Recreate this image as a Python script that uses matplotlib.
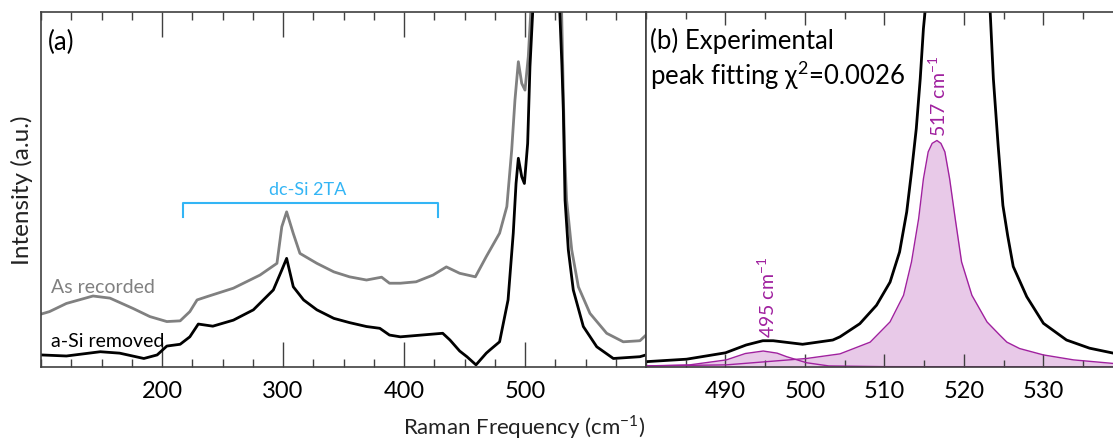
import matplotlib.pyplot as plt
import numpy as np

plt.rcParams['font.family'] = ['Lato', 'DejaVu Sans']

# (a) full spectra, intensity in arbitrary units (0-100 = axis height)
x_rec = np.array([100, 107, 121, 143, 157, 176, 190, 204, 215, 223, 229, 237, 259, 281, 295, 299,
                  303, 308.5, 314, 328, 342, 355, 369, 381.5, 388, 397, 410, 424, 435, 446, 459,
                  468, 479, 485, 489, 491.7, 494.5, 497.3, 500, 502.7, 504.7, 518, 530.3, 531.6,
                  532.8, 534.4, 538.6, 544.1, 553.7, 567.5, 581.2, 595, 600])
y_rec = np.array([14.9, 15.6, 17.9, 20.0, 19.4, 16.5, 14.2, 12.8, 13.0, 15.6, 18.9, 19.8, 22.2,
                  25.9, 29.2, 39.5, 43.7, 37.6, 32.0, 29.2, 26.8, 25.4, 24.5, 25.3, 23.6, 23.6,
                  24.0, 25.9, 28.2, 26.4, 25.4, 31.1, 37.7, 45.2, 61.1, 75.2, 86.0, 79.9, 78.0,
                  87.4, 99.6, 400, 99.6, 78, 60, 47, 33, 22.6, 15.1, 9.5, 7.1, 7.4, 9.0])

x_rem = np.array([100, 121, 149, 165, 185, 196, 204, 215, 223, 230, 242, 259, 275.5, 292, 299,
                  303, 308.5, 317, 328, 342, 355, 369, 380, 388, 397, 432, 438, 446, 452, 459.5,
                  468, 471, 479, 486, 490.3, 492.6, 494.5, 497.3, 499.5, 502.2, 504.1, 506.3,
                  518, 528.8, 530.5, 531.7, 533.1, 535.8, 539.9, 548.2, 559.3, 573, 595, 600])
y_rem = np.array([3.4, 3.1, 4.3, 3.9, 2.4, 3.4, 5.9, 6.4, 8.5, 12.1, 11.5, 13.2, 16.1, 21.7,
                  27.3, 30.6, 22.6, 18.9, 16.1, 13.7, 12.5, 11.4, 10.9, 9.0, 8.5, 9.5, 7.6, 4.5,
                  2.9, 0.6, 3.9, 4.8, 7.1, 18.9, 37.7, 51.7, 58.8, 53.6, 51.7, 63.0, 84.6, 99.6,
                  400, 99.6, 85, 72, 47, 33, 21.7, 11.4, 5.7, 2.4, 2.9, 3.4])

# (b) experimental spectrum and fitted peaks
x_exp = np.array([480, 485.1, 490, 492.6, 494.7, 496, 499.7, 503.5, 504.4, 506.9, 509.0, 510.7,
                  511.9, 512.8, 513.4, 514.0, 514.5, 514.9, 515.1, 519, 523.3, 523.7, 524.3,
                  524.9, 525.5, 526.2, 527.9, 530.0, 532.9, 535.8, 538.8])
y_exp = np.array([1.5, 2.2, 4.0, 6.2, 7.4, 7.4, 6.4, 7.6, 8.5, 12.2, 17.4, 23.9, 32.4, 43.7,
                  54.9, 67.1, 81.2, 95.3, 100, 300, 100, 81.2, 62.4, 45.5, 37.0, 28.3, 19.8,
                  12.3, 7.6, 5.3, 3.9])

x_p517 = np.array([480, 490.1, 500.2, 504.4, 508.2, 510.7, 512.4, 513.4, 514.3, 514.9, 515.5,
                   516.0, 516.6, 517.1, 517.6, 518.2, 518.9, 519.7, 521.0, 522.9, 524.5, 525.4,
                   527.0, 530.0, 533.8, 538.8])
y_p517 = np.array([0.3, 0.6, 2.4, 3.7, 7.0, 12.7, 20.2, 29.6, 41.8, 53.0, 60.6, 63.0, 63.8,
                   63.0, 60.6, 53.0, 41.8, 29.6, 20.2, 12.7, 9.0, 7.0, 5.2, 3.4, 2.0, 1.0])

x_p495 = np.array([480, 485.5, 490.1, 492.5, 494.75, 496.5, 497.7, 500.2, 503, 510, 538.8])
y_p495 = np.array([0.3, 0.6, 2.0, 3.8, 4.5, 3.9, 2.9, 1.2, 0.3, 0.1, 0.0])

fig = plt.figure(figsize=(11.13, 4.44), dpi=100)
axa = fig.add_axes([41 / 1113, 77 / 444, 605 / 1113, 355 / 444])
axb = fig.add_axes([646 / 1113, 77 / 444, 467 / 1113, 355 / 444])

spine_c = '#404040'

axa.plot(x_rec, y_rec, color='#808080', lw=2)
axa.plot(x_rem, y_rem, color='black', lw=2)
axa.set_xlim(100, 600)
axa.set_ylim(0, 100)
axa.set_xticks([200, 300, 400, 500])
axa.set_xticks(np.arange(100, 601, 25), minor=True)
axa.tick_params(axis='x', which='major', direction='in', length=18, width=1, top=True,
                labelsize=17, pad=10, color=spine_c)
axa.tick_params(axis='x', which='minor', direction='in', length=6, width=1, top=True, color=spine_c)
axa.set_yticks([])

# dc-Si 2TA bracket
axa.plot([217.4, 217.4, 428, 428], [42.3, 46.2, 46.2, 42.3], color='#33b5f5', lw=1.5)
axa.text(320, 47.6, 'dc-Si 2TA', color='#33b5f5', fontsize=13, ha='center', va='bottom')
axa.text(108, 20.8, 'As recorded', color='#808080', fontsize=14, ha='left', va='baseline')
axa.text(108, 5.7, 'a-Si removed', color='black', fontsize=14, ha='left', va='baseline')
axa.text(0.012, 0.95, '(a)', transform=axa.transAxes, fontsize=18.5, ha='left', va='top')

fill_c = '#e8c9e8'
edge_c = '#a0219f'
axb.fill_between(x_p517, 0, y_p517, color=fill_c, lw=0)
axb.fill_between(x_p495, 0, y_p495, color=fill_c, lw=0)
axb.plot(x_p517, y_p517, color=edge_c, lw=1)
axb.plot(x_p495, y_p495, color=edge_c, lw=1)
axb.plot(x_exp, y_exp, color='black', lw=2)
axb.set_xlim(480, 538.75)
axb.set_ylim(0, 100)
axb.set_xticks([490, 500, 510, 520, 530])
axb.set_xticks(np.arange(480, 540, 5), minor=True)
axb.tick_params(axis='x', which='major', direction='in', length=9.5, width=1, top=True,
                labelsize=17, pad=10, color=spine_c)
axb.tick_params(axis='x', which='minor', direction='in', length=5, width=1, top=True, color=spine_c)
axb.set_yticks([])
axb.spines['right'].set_visible(False)

axb.text(495.2, 8.2, '495 cm$^{\\mathregular{-1}}$', color=edge_c, fontsize=14, rotation=90,
         ha='center', va='bottom')
axb.text(516.7, 64.8, '517 cm$^{\\mathregular{-1}}$', color=edge_c, fontsize=14, rotation=90,
         ha='center', va='bottom')
axb.text(0.009, 0.955, '(b) Experimental', transform=axb.transAxes, fontsize=18.5,
         ha='left', va='top')
axb.text(0.009, 0.87, 'peak fitting χ$^{\\mathregular{2}}$=0.0026', transform=axb.transAxes,
         fontsize=18.5, ha='left', va='top')

for ax in (axa, axb):
    for s in ax.spines.values():
        s.set_color(spine_c)
        s.set_linewidth(1.2)

fig.text(22 / 1113, 1 - 190 / 444, 'Intensity (a.u.)', rotation=90, fontsize=17.5,
         ha='center', va='center', color='#222222')
fig.text(524 / 1113, 1 - 427 / 444, 'Raman Frequency (cm$^{\\mathregular{-1}}$)', fontsize=16,
         ha='center', va='center', color='#222222')

fig.savefig('out.png', dpi=100)
